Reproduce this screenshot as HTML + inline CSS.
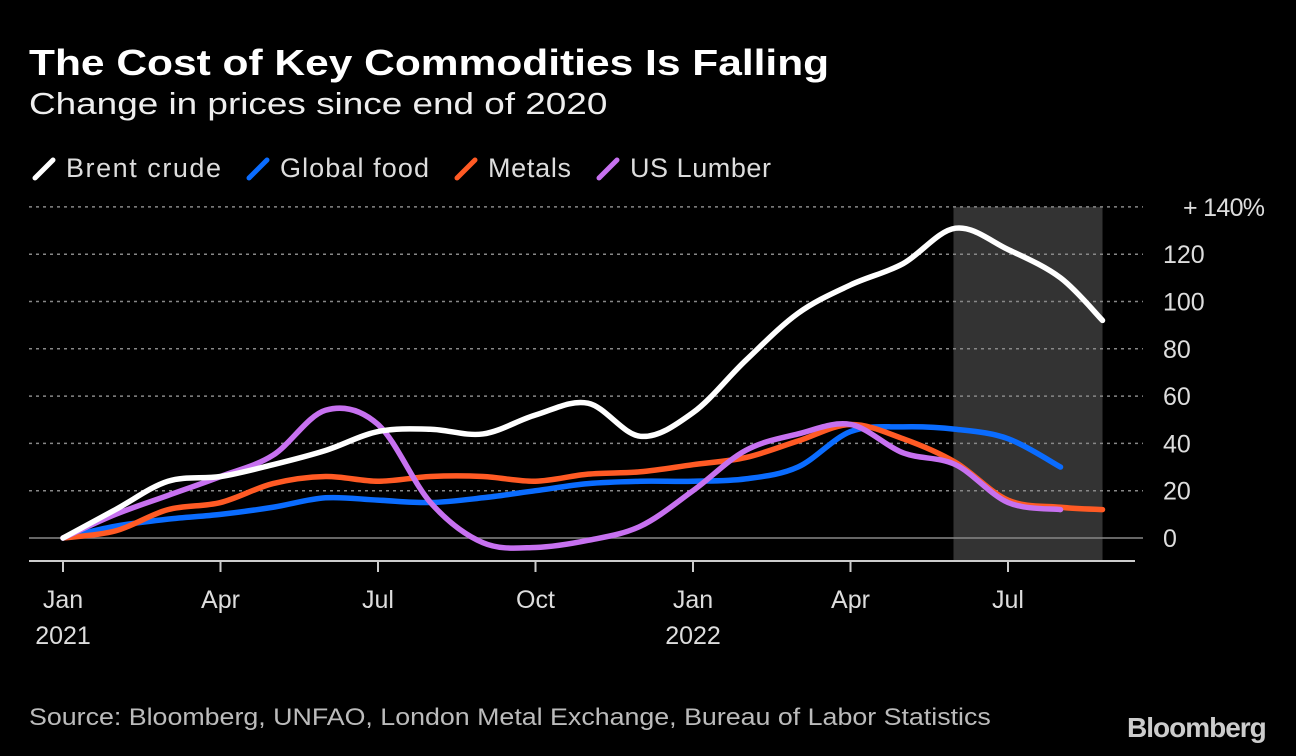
<!DOCTYPE html>
<html><head><meta charset="utf-8"><style>
html,body{margin:0;padding:0;background:#000;width:1296px;height:756px;overflow:hidden}
body{font-family:"Liberation Sans","DejaVu Sans",sans-serif;color:#fff;position:relative}
.t{position:absolute;white-space:nowrap;transform-origin:0 0}
</style></head><body>
<div class="t" style="left:29px;top:42px;font-size:36px;font-weight:bold;transform:scaleX(1.18)">The Cost of Key Commodities Is Falling</div>
<div class="t" style="left:29px;top:86px;font-size:31px;color:#eee;transform:scaleX(1.19)">Change in prices since end of 2020</div>
<div class="t" style="left:29px;top:704px;font-size:24px;color:#bbb;transform:scaleX(1.116)">Source: Bloomberg, UNFAO, London Metal Exchange, Bureau of Labor Statistics</div>
<div class="t" style="left:1127px;top:712px;font-size:28px;font-weight:bold;color:#ccc;letter-spacing:-1px">Bloomberg</div>
<svg id="chart" width="1296" height="756" style="position:absolute;left:0;top:0"></svg>
<script>
const monthIdx=[0,1,2,3,4,5,6,7,8,9,10,11,12,13,14,15,16,17,18,19,19.8];
const brent=[0,12,24,26,31,37,45,46,44,52,57,43,53,75,95,107,116,131,122,110,92];
const food=[0,5,8,10,13,17,16,15,17,20,23,24,24,25,30,45,47,46,42,30];
const metals=[0,3,12,15,23,26,24,26,26,24,27,28,31,34,41,48,42,32,16,13,12];
const lumber=[0,10,18,26,35,54,48,15,-2,-4,-1,5,20,37,44,48,36,31,15,12];
const yTicks=[0,20,40,60,80,100,120,140];
const xTicks=[{m:0,a:"Jan",b:"2021"},{m:3,a:"Apr"},{m:6,a:"Jul"},{m:9,a:"Oct"},{m:12,a:"Jan",b:"2022"},{m:15,a:"Apr"},{m:18,a:"Jul"}];
const shade=[17,19.8];
const NS="http://www.w3.org/2000/svg";
const svg=document.getElementById('chart');
const X=m=>63+m*52.5, Y=v=>538-v*2.365;
function mk(t,a){const e=document.createElementNS(NS,t);for(const k in a)e.setAttribute(k,a[k]);svg.appendChild(e);return e;}
let r=mk('rect',{x:X(shade[0])-2,y:Y(140),width:X(shade[1])-X(shade[0])+2,height:560-Y(140),fill:'#333'});


yTicks.forEach(v=>{
 let l=mk('line',{x1:29,x2:1143,y1:Y(v),y2:Y(v),stroke:'#888','stroke-width':1.5,'stroke-dasharray':v===0?'':'3,4'});
 
 
 let t=mk('text',{x:v===140?1183:1163,y:Y(v)+9,fill:'#ddd','font-size':25});
 t.textContent=v===140?'+ 140%':v;
 if(v===140)t.setAttribute('textLength',82);
 
 
});
let ax=mk('line',{x1:29,x2:1135,y1:561,y2:561,stroke:'#ccc','stroke-width':2});


xTicks.forEach(k=>{
 let l=mk('line',{x1:X(k.m),x2:X(k.m),y1:561,y2:572,stroke:'#ccc','stroke-width':2});
 
 
 let t=mk('text',{x:X(k.m),y:608,fill:'#ddd','font-size':25,'text-anchor':'middle'});t.textContent=k.a;
 
 
 if(k.b){let t2=mk('text',{x:X(k.m),y:644,fill:'#ddd','font-size':25,'text-anchor':'middle'});t2.textContent=k.b;
 
 }
});
function path(vals){
 const p=vals.map((v,i)=>[X(monthIdx[i]),Y(v)]);
 let d='M'+p[0][0]+','+p[0][1];
 for(let i=0;i<p.length-1;i++){
  const p0=p[i-1]||p[i],p1=p[i],p2=p[i+1],p3=p[i+2]||p2;
  d+=' C'+(p1[0]+(p2[0]-p0[0])/6)+','+(p1[1]+(p2[1]-p0[1])/6)+' '+(p2[0]-(p3[0]-p1[0])/6)+','+(p2[1]-(p3[1]-p1[1])/6)+' '+p2[0]+','+p2[1];
 }
 return d;
}
[[food,'#0a6cff','global-food-line'],[metals,'#ff5a24','metals-line'],[lumber,'#c771f0','us-lumber-line'],[brent,'#ffffff','brent-crude-line']].forEach(s=>{
 let e=mk('path',{d:path(s[0]),fill:'none',stroke:s[1],'stroke-width':5.5,'stroke-linecap':'round'});
 
 
});
const legend=[['Brent crude','#fff',29,155],['Global food','#0a6cff',243,149],['Metals','#ff5a24',451,83],['US Lumber','#c771f0',593,141]];
legend.forEach(l=>{
 let m=mk('line',{x1:l[2]+6,y1:178,x2:l[2]+24,y2:160,stroke:l[1],'stroke-width':5,'stroke-linecap':'round'});
 
 
 let t=mk('text',{x:l[2]+37,y:177,fill:'#ddd','font-size':27,textLength:l[3]});t.textContent=l[0];
 
 
});
</script>
</body></html>
